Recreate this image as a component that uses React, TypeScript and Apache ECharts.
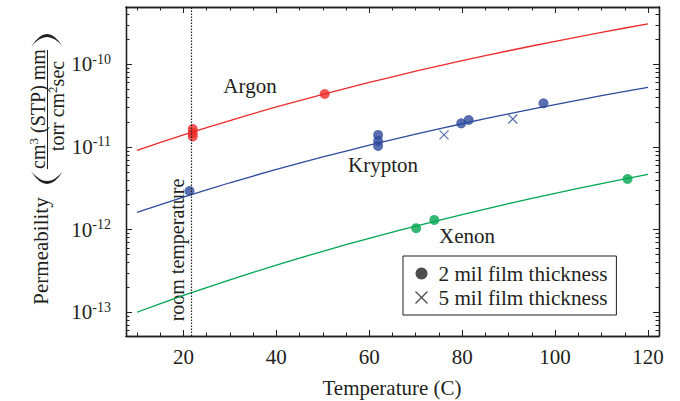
import { useEffect, useRef } from 'react';
import * as echarts from 'echarts';

// Fitted permeability curves, sampled every 10 °C
const TEMP_GRID = [10, 20, 30, 40, 50, 60, 70, 80, 90, 100, 110, 120];
const ARGON_FIT = [9.1e-12, 1.4e-11, 2.09e-11, 3.05e-11, 4.34e-11, 6.04e-11, 8.25e-11, 1.11e-10, 1.46e-10, 1.9e-10, 2.44e-10, 3.09e-10];
const KRYPTON_FIT = [1.62e-12, 2.48e-12, 3.69e-12, 5.35e-12, 7.57e-12, 1.05e-11, 1.43e-11, 1.91e-11, 2.52e-11, 3.26e-11, 4.18e-11, 5.27e-11];
const XENON_FIT = [1.0e-13, 1.6e-13, 2.47e-13, 3.73e-13, 5.47e-13, 7.85e-13, 1.1e-12, 1.52e-12, 2.06e-12, 2.75e-12, 3.61e-12, 4.67e-12];

// Measurements, 2 mil film
const ARGON_2MIL_T = [22, 22, 22, 50.4];
const ARGON_2MIL_P = [1.65e-11, 1.48e-11, 1.34e-11, 4.37e-11];
const KRYPTON_2MIL_T = [21.3, 61.9, 61.9, 61.9, 79.8, 81.4, 97.5];
const KRYPTON_2MIL_P = [2.93e-12, 1.4e-11, 1.18e-11, 1.03e-11, 1.93e-11, 2.12e-11, 3.37e-11];
const XENON_2MIL_T = [70.1, 74.0, 115.6];
const XENON_2MIL_P = [1.04e-12, 1.31e-12, 4.1e-12];

// Measurements, 5 mil film
const KRYPTON_5MIL_T = [76.1, 90.9];
const KRYPTON_5MIL_P = [1.4e-11, 2.18e-11];

const ROOM_TEMP = 21.7;

// Axis ticks
const X_LABEL_TICKS = [20, 40, 60, 80, 100, 120];
const X_MINOR_TICKS = [10, 15, 25, 30, 35, 45, 50, 55, 65, 70, 75, 85, 90, 95, 105, 110, 115];
const Y_LABEL_TICKS = [1e-13, 1e-12, 1e-11, 1e-10];
const Y_DECADES = [1e-14, 1e-13, 1e-12, 1e-11, 1e-10];
const Y_MULTIPLIERS = [2, 3, 4, 5, 6, 7, 8, 9];

const X_MIN = 7.63;
const X_MAX = 122.37;
const Y_MIN = 5.16e-14;
const Y_MAX = 4.94e-10;

const RED = '#ee2a2a';
const BLUE = '#2e4a9e';
const GREEN = '#00a651';
const INK = '#231f20';
const FONT = 'Liberation Serif';
const CROSS = 'path://M0,0L10,10M10,0L0,10';

// Tall parentheses around the unit fraction (rotated with the axis title)
echarts.graphic.registerShape(
  'unitParenOpen',
  echarts.graphic.extendPath('M31,171 Q47,197 63,171 Q47,191 31,171 Z', {})
);
echarts.graphic.registerShape(
  'unitParenClose',
  echarts.graphic.extendPath('M31,47 Q47,21 63,47 Q47,27 31,47 Z', {})
);

const pairs = (xs: number[], ys: number[]) => xs.map((x, i) => [x, ys[i]]);

export default function App() {
  const ref = useRef<HTMLDivElement>(null);

  useEffect(() => {
    if (!ref.current) return;
    const chart = echarts.init(ref.current, undefined, { renderer: 'svg' });

    const yMinor: number[] = [];
    Y_DECADES.forEach((d) => Y_MULTIPLIERS.forEach((m) => {
      const v = d * m;
      if (v > Y_MIN && v < Y_MAX) yMinor.push(v);
    }));

    const axisLine = { show: true, onZero: false, lineStyle: { color: INK, width: 1.3 } };
    const xCommon = { type: 'value' as const, min: X_MIN, max: X_MAX, gridIndex: 0, splitLine: { show: false }, axisLine };
    const yCommon = { type: 'log' as const, logBase: 10, min: Y_MIN, max: Y_MAX, gridIndex: 0, splitLine: { show: false }, axisLine };

    const dots = [
      ...pairs(ARGON_2MIL_T, ARGON_2MIL_P).map((v) => ({ value: v, itemStyle: { color: RED } })),
      ...pairs(KRYPTON_2MIL_T, KRYPTON_2MIL_P).map((v) => ({ value: v, itemStyle: { color: BLUE } })),
      ...pairs(XENON_2MIL_T, XENON_2MIL_P).map((v) => ({ value: v, itemStyle: { color: GREEN } })),
    ];

    const rotText = (x: number, y: number, text: string, fontSize = 21, rich?: any) => ({
      type: 'text',
      x,
      y,
      rotation: Math.PI / 2,
      style: {
        text,
        fontFamily: FONT,
        fontSize,
        fill: INK,
        align: 'center',
        verticalAlign: 'middle',
        rich,
      },
    });
    const fracRich = {
      a: { fontFamily: FONT, fontSize: 20, color: INK, lineHeight: 22 },
      s: { fontFamily: FONT, fontSize: 13, color: INK, verticalAlign: 'top', lineHeight: 13 },
    };
    const plainText = (x: number, y: number, text: string) => ({
      type: 'text',
      x,
      y,
      style: { text, fontFamily: FONT, fontSize: 21, fill: INK, align: 'center', verticalAlign: 'middle' },
    });

    chart.setOption({
      animation: false,
      backgroundColor: '#fff',
      grid: { left: 126, top: 7, width: 533, height: 329, containLabel: false },
      xAxis: [
        {
          ...xCommon,
          position: 'bottom',
          axisTick: { inside: true, length: 6, lineStyle: { color: INK, width: 1 }, customValues: X_LABEL_TICKS },
          axisLabel: {
            customValues: X_LABEL_TICKS,
            margin: 10,
            fontFamily: FONT,
            fontSize: 21,
            color: INK,
          },
        },
        {
          ...xCommon,
          position: 'bottom',
          axisTick: { inside: true, length: 3.5, lineStyle: { color: INK, width: 1 }, customValues: X_MINOR_TICKS },
          axisLabel: { show: false },
        },
        {
          ...xCommon,
          position: 'top',
          axisTick: { inside: true, length: 6, lineStyle: { color: INK, width: 1 }, customValues: X_LABEL_TICKS },
          axisLabel: { show: false },
        },
        {
          ...xCommon,
          position: 'top',
          axisTick: { inside: true, length: 3.5, lineStyle: { color: INK, width: 1 }, customValues: X_MINOR_TICKS },
          axisLabel: { show: false },
        },
      ],
      yAxis: [
        {
          ...yCommon,
          position: 'left',
          axisTick: { inside: true, length: 6, lineStyle: { color: INK, width: 1 }, customValues: Y_LABEL_TICKS },
          axisLabel: {
            customValues: Y_LABEL_TICKS,
            margin: 15,
            formatter: (v: number) => `{b|10}{s|${Math.round(Math.log10(v))}}`,
            rich: {
              b: { fontFamily: FONT, fontSize: 21, color: INK, lineHeight: 24 },
              s: { fontFamily: FONT, fontSize: 14, color: INK, verticalAlign: 'top', lineHeight: 14 },
            },
          },
        },
        {
          ...yCommon,
          position: 'left',
          axisTick: { inside: true, length: 3.5, lineStyle: { color: INK, width: 1 }, customValues: yMinor },
          axisLabel: { show: false },
        },
        {
          ...yCommon,
          position: 'right',
          axisTick: { inside: true, length: 6, lineStyle: { color: INK, width: 1 }, customValues: Y_LABEL_TICKS },
          axisLabel: { show: false },
        },
        {
          ...yCommon,
          position: 'right',
          axisTick: { inside: true, length: 3.5, lineStyle: { color: INK, width: 1 }, customValues: yMinor },
          axisLabel: { show: false },
        },
      ],
      legend: {
        orient: 'vertical',
        left: 403,
        top: 256,
        padding: [7, 9, 7, 10],
        itemGap: 3,
        itemWidth: 24,
        itemHeight: 12,
        borderColor: INK,
        borderWidth: 1,
        backgroundColor: '#fff',
        selectedMode: false,
        textStyle: { fontFamily: FONT, fontSize: 21.2, color: INK },
        data: [
          { name: '2 mil film thickness', icon: 'circle', itemStyle: { color: INK } },
          { name: '5 mil film thickness', icon: CROSS, itemStyle: { color: 'none', borderColor: INK, borderWidth: 1.3 } },
        ],
      },
      series: [
        {
          name: 'Argon',
          type: 'line',
          data: pairs(TEMP_GRID, ARGON_FIT),
          showSymbol: false,
          smooth: 0.2,
          lineStyle: { color: RED, width: 1.3 },
          itemStyle: { color: RED },
          z: 2,
          markLine: {
            silent: true,
            symbol: ['none', 'none'],
            label: { show: false },
            lineStyle: { type: [1.5, 1.5], color: INK, width: 1.2 },
            data: [{ xAxis: ROOM_TEMP }],
          },
        },
        {
          name: 'Krypton',
          type: 'line',
          data: pairs(TEMP_GRID, KRYPTON_FIT),
          showSymbol: false,
          smooth: 0.2,
          lineStyle: { color: BLUE, width: 1.3 },
          itemStyle: { color: BLUE },
          z: 2,
        },
        {
          name: 'Xenon',
          type: 'line',
          data: pairs(TEMP_GRID, XENON_FIT),
          showSymbol: false,
          smooth: 0.2,
          lineStyle: { color: GREEN, width: 1.3 },
          itemStyle: { color: GREEN },
          z: 2,
        },
        {
          name: '2 mil film thickness',
          type: 'scatter',
          data: dots,
          symbol: 'circle',
          symbolSize: 10,
          z: 3,
        },
        {
          name: '5 mil film thickness',
          type: 'scatter',
          data: pairs(KRYPTON_5MIL_T, KRYPTON_5MIL_P),
          symbol: CROSS,
          symbolSize: 9,
          itemStyle: { color: 'none', borderColor: BLUE, borderWidth: 1.2 },
          z: 3,
        },
      ],
      graphic: [
        plainText(250, 86, 'Argon'),
        plainText(383, 165, 'Krypton'),
        plainText(467, 236, 'Xenon'),
        plainText(392, 388, 'Temperature (C)'),
        rotText(177, 250, 'room temperature', 20),
        rotText(40.5, 251, 'Permeability', 21),
        { type: 'unitParenOpen', x: 0, y: 0, style: { fill: INK, stroke: 'none' } },
        { type: 'unitParenClose', x: 0, y: 0, style: { fill: INK, stroke: 'none' } },
        rotText(37.5, 109, '{a|cm}{s|3}{a| (STP) mm}', 20, fracRich),
        rotText(57, 106, '{a|torr cm}{s|2}{a|sec}', 20, fracRich),
        {
          type: 'line',
          shape: { x1: 47.5, y1: 50, x2: 47.5, y2: 169 },
          style: { stroke: INK, lineWidth: 1 },
        },
      ],
    });

    return () => chart.dispose();
  }, []);

  return <div ref={ref} style={{ position: 'fixed', left: 0, top: 0, width: 680, height: 401 }} />;
}
